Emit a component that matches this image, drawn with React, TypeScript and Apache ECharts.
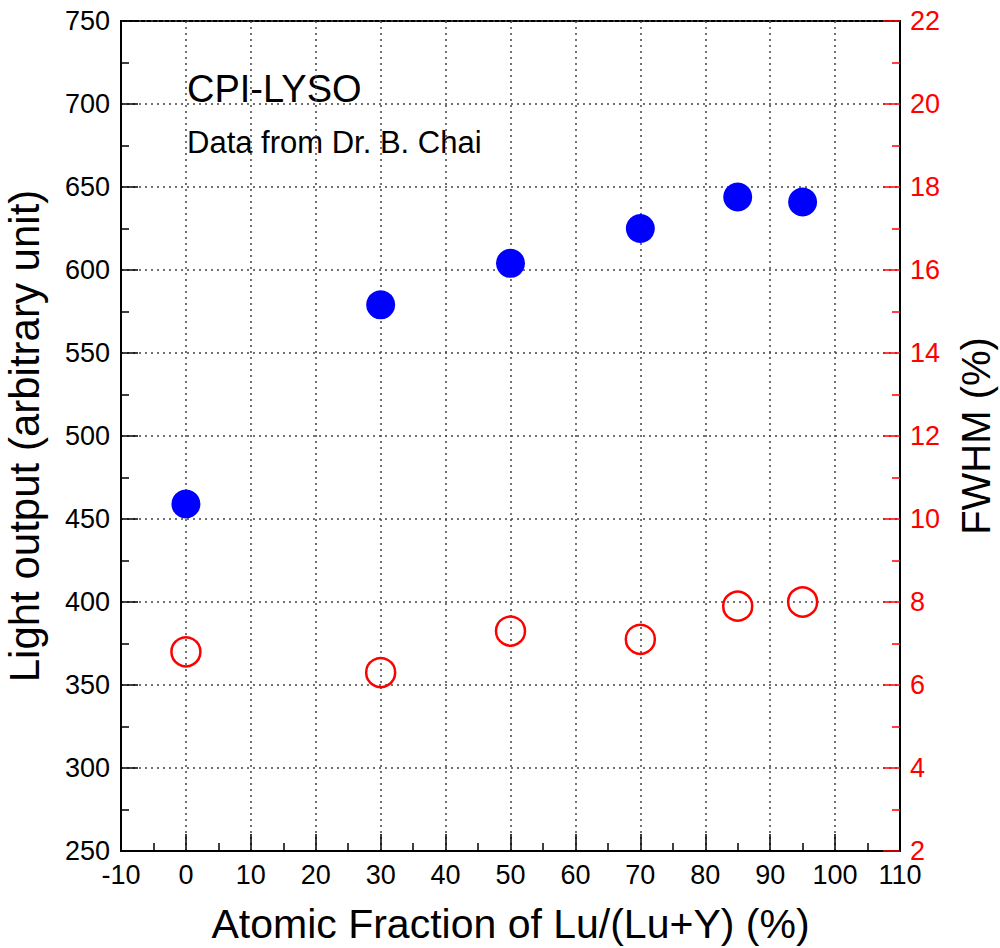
import React, { useEffect, useRef } from "react";
import * as echarts from "echarts";

const fractions = [0, 30, 50, 70, 85, 95];
const lightOutput = [459, 579, 604, 625, 644, 641];
const fwhm = [6.8, 6.3, 7.3, 7.1, 7.9, 8.0];

const FONT = "'Liberation Sans', Arial, Helvetica, sans-serif";

export default function App() {
  const ref = useRef<HTMLDivElement>(null);
  useEffect(() => {
    const chart = echarts.init(ref.current!, null, { renderer: "svg" });
    chart.setOption({
      animation: false,
      backgroundColor: "#fff",
      textStyle: { fontFamily: FONT },
      grid: {
        left: 121,
        right: 100,
        top: 21,
        bottom: 97,
        show: true,
        borderColor: "#000",
        borderWidth: 2,
        containLabel: false,
        outerBoundsMode: "none",
      },
      graphic: [
        {
          type: "text",
          left: 187,
          top: 70,
          style: { text: "CPI-LYSO", fontSize: 38, fontFamily: FONT, fill: "#000" },
        },
        {
          type: "text",
          left: 187,
          top: 127,
          style: { text: "Data from Dr. B. Chai", fontSize: 31, fontFamily: FONT, fill: "#000" },
        },
      ],
      xAxis: {
        type: "value",
        min: -10,
        max: 110,
        interval: 10,
        name: "Atomic Fraction of Lu/(Lu+Y) (%)",
        nameLocation: "middle",
        nameGap: 52,
        nameTextStyle: { fontSize: 41, color: "#000", fontFamily: FONT },
        axisLine: { show: true, onZero: false, lineStyle: { color: "#000", width: 2 } },
        axisTick: { show: true, inside: true, length: 17, lineStyle: { color: "#000", width: 1.5 } },
        minorTick: { show: true, splitNumber: 2, length: 8, lineStyle: { color: "#000", width: 1.5 } },
        axisLabel: { fontSize: 27, color: "#000", margin: 10, showMinLabel: true, showMaxLabel: true, fontFamily: FONT },
        splitLine: { show: true, lineStyle: { color: "#444", width: 1.5, type: [2, 4] } },
      },
      yAxis: [
        {
          type: "value",
          min: 250,
          max: 750,
          interval: 50,
          position: "left",
          name: "Light output (arbitrary unit)",
          nameLocation: "middle",
          nameRotate: 90,
          nameGap: 76,
          nameTextStyle: { fontSize: 42, color: "#000", fontFamily: FONT },
          axisLine: { show: true, onZero: false, lineStyle: { color: "#000", width: 2 } },
          axisTick: { show: true, inside: true, length: 17, lineStyle: { color: "#000", width: 1.5 } },
          minorTick: { show: true, splitNumber: 2, length: 8, lineStyle: { color: "#000", width: 1.5 } },
          axisLabel: { fontSize: 27, color: "#000", margin: 11, showMinLabel: true, showMaxLabel: true, fontFamily: FONT },
          splitLine: { show: true, lineStyle: { color: "#444", width: 1.5, type: [2, 4] } },
        },
        {
          type: "value",
          min: 2,
          max: 22,
          interval: 2,
          position: "right",
          name: "FWHM (%)",
          nameLocation: "middle",
          nameRotate: 90,
          nameGap: 56,
          nameTextStyle: { fontSize: 40, color: "#000", fontFamily: FONT },
          axisLine: { show: true, onZero: false, lineStyle: { color: "#000", width: 2 } },
          axisTick: { show: true, inside: true, length: 17, lineStyle: { color: "#ff0000", width: 1.5 } },
          minorTick: { show: true, splitNumber: 2, length: 8, lineStyle: { color: "#ff0000", width: 1.5 } },
          axisLabel: { fontSize: 27, color: "#ff0000", margin: 10, showMinLabel: true, showMaxLabel: true, fontFamily: FONT },
          splitLine: { show: false },
        },
      ],
      series: [
        {
          type: "scatter",
          name: "Light output",
          yAxisIndex: 0,
          symbol: "circle",
          symbolSize: 29,
          itemStyle: { color: "#0000ff", opacity: 1 },
          data: fractions.map((x, i) => [x, lightOutput[i]]),
        },
        {
          type: "scatter",
          name: "FWHM",
          yAxisIndex: 1,
          symbol: "circle",
          symbolSize: 29,
          itemStyle: { color: "transparent", borderColor: "#ff0000", borderWidth: 2.5, opacity: 1 },
          data: fractions.map((x, i) => [x, fwhm[i]]),
        },
      ],
    });
    return () => chart.dispose();
  }, []);
  return <div ref={ref} style={{ width: 1000, height: 948, position: "absolute", left: 0, top: 0 }} />;
}
